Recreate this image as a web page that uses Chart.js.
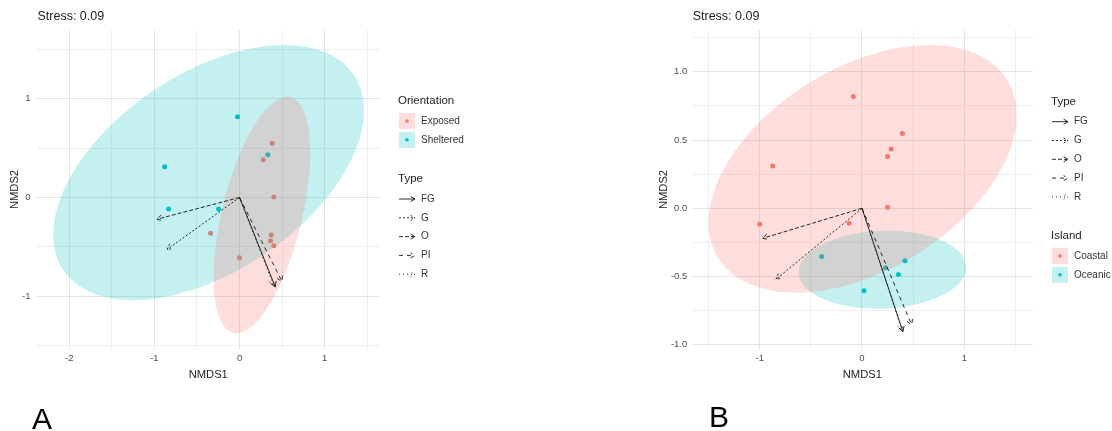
<!DOCTYPE html>
<html>
<head>
<meta charset="utf-8">
<title>NMDS ordination</title>
<script src="https://cdn.jsdelivr.net/npm/chart.js@4.4.1/dist/chart.umd.min.js"></script>
<style>
  html, body { margin: 0; padding: 0; background: #fff; }
  #wrap { position: relative; width: 1112px; height: 431px; }
  #wrap canvas { position: absolute; top: 0; }
  #panelA { left: 0; }
  #panelB { left: 556px; }
</style>
</head>
<body>
<div id="wrap">
  <canvas id="panelA" width="556" height="431"></canvas>
  <canvas id="panelB" width="556" height="431"></canvas>
</div>
<script>
// ---- panel A : sites grouped by orientation ----
var orientationGroups = ['Exposed', 'Sheltered'];
var exposedX   = [0.384, 0.278, 0.403, 0.372, 0.364, 0.403, -0.34, 0.0];
var exposedY   = [0.549, 0.383, 0.005, -0.38, -0.437, -0.488, -0.363, -0.61];
var shelteredX = [-0.023, -0.88, -0.833, -0.246, 0.333];
var shelteredY = [0.819, 0.312, -0.117, -0.117, 0.434];
// ellipse: centre x, centre y, var x, var y, cov xy
var exposedEllipse   = [0.2625, -0.1775, 0.322, 1.436, 0.357];
var shelteredEllipse = [-0.363, 0.2525, 3.338, 1.671, 1.15];

// ---- panel B : sites grouped by island ----
var islandGroups = ['Coastal', 'Oceanic'];
var coastalX = [-0.085, 0.395, 0.285, 0.25, -0.873, 0.25, -1.0, -0.127];
var coastalY = [0.818, 0.547, 0.434, 0.38, 0.31, 0.007, -0.117, -0.11];
var oceanicX = [-0.394, 0.42, 0.23, 0.356, 0.02];
var oceanicY = [-0.354, -0.384, -0.435, -0.486, -0.604];
var coastalEllipse = [0.006, 0.289, 2.268, 0.823, 0.594];
var oceanicEllipse = [0.20, -0.45, 0.672, 0.0818, 0.015];

// fitted vectors (envfit arrows)
var vectorTypes = ['FG', 'G', 'O', 'PI', 'R'];
var vectorAX = [0.42, -0.85, -0.97, 0.50, 0.40];
var vectorAY = [-0.906, -0.525, -0.22, -0.853, -0.89];
var vectorBX = [0.40, -0.84, -0.97, 0.486, 0.39];
var vectorBY = [-0.904, -0.52, -0.22, -0.855, -0.89];

var stressLabel = 'Stress: 0.09';

var FONT = '"Liberation Sans", Arial, Helvetica, sans-serif';
var RED = '#F8766D', CYAN = '#00BFC4';
var RED_FILL = 'rgba(248,118,109,0.24)', CYAN_FILL = 'rgba(0,191,196,0.23)';
var DASH = { FG: [], G: [2, 2], O: [4, 2], PI: [4, 4], R: [1, 3] };

function zip(xs, ys) {
    return xs.map(function (x, i) { return { x: x, y: ys[i] }; });
}

// closed outline of an ellipse given centre and covariance-style shape matrix
function ellipseOutline(e) {
    var l11 = Math.sqrt(e[2]), l21 = e[4] / l11, l22 = Math.sqrt(e[3] - l21 * l21);
    var pts = [];
    for (var i = 0; i <= 120; i++) {
        var t = i / 120 * 2 * Math.PI;
        pts.push({ x: e[0] + l11 * Math.cos(t), y: e[1] + l21 * Math.cos(t) + l22 * Math.sin(t) });
    }
    return pts;
}

function buildDatasets(groups, ellipses, vx, vy) {
    var ds = [];
    groups.forEach(function (g) {
        ds.push({
            label: g.name, data: zip(g.x, g.y), order: 3,
            pointRadius: 2.5, pointBorderWidth: 0,
            pointBackgroundColor: g.color
        });
    });
    ellipses.forEach(function (e) {
        ds.push({
            label: e.name + ' ellipse', data: ellipseOutline(e.par), order: 2,
            showLine: true, fill: 'shape', backgroundColor: e.fill,
            borderWidth: 0, borderColor: 'rgba(0,0,0,0)', pointRadius: 0
        });
    });
    vectorTypes.forEach(function (t, i) {
        ds.push({
            label: t, vector: t, data: [{ x: 0, y: 0 }, { x: vx[i], y: vy[i] }], order: 1,
            showLine: true, fill: false, borderColor: '#111', borderWidth: 0.9,
            borderDash: DASH[t], pointRadius: 0
        });
    });
    return ds;
}

function txt(ctx, s, x, y, size, color, align) {
    ctx.font = size + 'px ' + FONT;
    ctx.fillStyle = color;
    ctx.textAlign = align || 'left';
    ctx.textBaseline = 'middle';
    ctx.fillText(s, x, y);
}

function arrowHead(ctx, x0, y0, x1, y1, len) {
    var a = Math.atan2(y1 - y0, x1 - x0), s = Math.PI / 6;
    ctx.beginPath();
    ctx.moveTo(x1 - len * Math.cos(a - s), y1 - len * Math.sin(a - s));
    ctx.lineTo(x1, y1);
    ctx.lineTo(x1 - len * Math.cos(a + s), y1 - len * Math.sin(a + s));
    ctx.stroke();
}

function drawLegend(ctx, x, blocks) {
    blocks.forEach(function (b) {
        txt(ctx, b.title, x, b.y, 11.5, '#222');
        b.rows.forEach(function (r, i) {
            var y = b.y + 20 + i * 18.8;
            if (r.fill) {
                ctx.fillStyle = r.fill;
                ctx.fillRect(x + 1, y - 8, 16, 16);
                ctx.fillStyle = r.color;
                ctx.beginPath();
                ctx.arc(x + 9, y, 1.8, 0, 2 * Math.PI);
                ctx.fill();
            } else {
                ctx.save();
                ctx.strokeStyle = '#111';
                ctx.lineWidth = 0.9;
                ctx.setLineDash(DASH[r.label]);
                ctx.beginPath();
                ctx.moveTo(x + 1, y);
                ctx.lineTo(x + 17, y);
                ctx.stroke();
                arrowHead(ctx, x + 1, y, x + 17, y, 5);
                ctx.restore();
            }
            txt(ctx, r.label, x + 23, y, 10, '#333');
        });
    });
}

function decor(cfg) {
    return {
        id: 'decor',
        afterDatasetsDraw: function (chart) {
            var ctx = chart.ctx;
            chart.data.datasets.forEach(function (d, i) {
                if (!d.vector) return;
                var pts = chart.getDatasetMeta(i).data;
                ctx.save();
                ctx.strokeStyle = '#111';
                ctx.lineWidth = 0.9;
                ctx.setLineDash(DASH[d.vector]);
                arrowHead(ctx, pts[0].x, pts[0].y, pts[1].x, pts[1].y, 6);
                ctx.restore();
            });
        },
        afterDraw: function (chart) {
            var ctx = chart.ctx;
            txt(ctx, stressLabel, chart.chartArea.left + 1, 16.5, 12.5, '#222');
            ctx.font = '30px ' + FONT;
            ctx.fillStyle = '#000';
            ctx.textAlign = 'left';
            ctx.textBaseline = 'alphabetic';
            ctx.fillText(cfg.letter, cfg.letterX, cfg.letterY);
            drawLegend(ctx, cfg.legendX, cfg.legend);
        }
    };
}

function gridColor(c) {
    return Math.abs(c.tick.value % c.scale.options.majorStep) < 1e-6 ? '#e4e4e4' : '#efefef';
}

function axis(range, step, major, decimals, title, isY, cfg) {
    return {
        type: 'linear', min: range[0], max: range[1], majorStep: major,
        border: { display: false },
        afterFit: function (s) { if (isY) s.width = cfg.yWidth; else s.height = 33; },
        grid: { color: gridColor, lineWidth: 1, drawTicks: false, tickLength: 0 },
        ticks: {
            stepSize: step, includeBounds: false, autoSkip: false, maxRotation: 0,
            padding: isY ? cfg.yTickPad : 4, color: '#4d4d4d',
            font: { family: FONT, size: 9.5 },
            callback: function (v) {
                if (Math.abs(v % major) > 1e-6) return '';
                return decimals ? v.toFixed(decimals) : String(Math.round(v));
            }
        },
        title: {
            display: true, text: title, color: '#222',
            font: { family: FONT, size: 11.2 },
            padding: isY ? { top: cfg.yTitlePad, bottom: 0 } : { top: 0, bottom: 0 }
        }
    };
}

function makePanel(id, datasets, cfg) {
    return new Chart(document.getElementById(id), {
        type: 'scatter',
        data: { datasets: datasets },
        options: {
            responsive: false,
            animation: false,
            layout: { padding: cfg.padding },
            plugins: { legend: { display: false }, tooltip: { enabled: false } },
            scales: {
                x: axis(cfg.xRange, 0.5, 1, 0, 'NMDS1', false, cfg),
                y: axis(cfg.yRange, cfg.yStep, cfg.yMajor, cfg.yDecimals, 'NMDS2', true, cfg)
            }
        },
        plugins: [decor(cfg)]
    });
}

var typeRows = vectorTypes.map(function (t) { return { label: t }; });

makePanel('panelA', buildDatasets(
    [{ name: orientationGroups[0], x: exposedX, y: exposedY, color: RED },
     { name: orientationGroups[1], x: shelteredX, y: shelteredY, color: CYAN }],
    [{ name: orientationGroups[0], par: exposedEllipse, fill: RED_FILL },
     { name: orientationGroups[1], par: shelteredEllipse, fill: CYAN_FILL }],
    vectorAX, vectorAY), {
    padding: { left: 0, top: 30, right: 176, bottom: 49 },
    xRange: [-2.386, 1.651], yRange: [-1.535, 1.697], yStep: 0.5, yMajor: 1, yDecimals: 0,
    yWidth: 36.5, yTickPad: 6, yTitlePad: 8.3,
    letter: 'A', letterX: 32, letterY: 429,
    legendX: 398,
    legend: [
        { title: 'Orientation', y: 101, rows: [
            { label: orientationGroups[0], fill: RED_FILL, color: RED },
            { label: orientationGroups[1], fill: CYAN_FILL, color: CYAN }] },
        { title: 'Type', y: 179, rows: typeRows }
    ]
});

makePanel('panelB', buildDatasets(
    [{ name: islandGroups[0], x: coastalX, y: coastalY, color: RED },
     { name: islandGroups[1], x: oceanicX, y: oceanicY, color: CYAN }],
    [{ name: islandGroups[0], par: coastalEllipse, fill: RED_FILL },
     { name: islandGroups[1], par: oceanicEllipse, fill: CYAN_FILL }],
    vectorBX, vectorBY), {
    padding: { left: 95.7, top: 30, right: 79, bottom: 49 },
    xRange: [-1.665, 1.672], yRange: [-1.031, 1.306], yStep: 0.25, yMajor: 0.5, yDecimals: 1,
    yWidth: 40, yTickPad: 4.4, yTitlePad: 5.1,
    letter: 'B', letterX: 153, letterY: 427,
    legendX: 495,
    legend: [
        { title: 'Type', y: 101.7, rows: typeRows },
        { title: 'Island', y: 236, rows: [
            { label: islandGroups[0], fill: RED_FILL, color: RED },
            { label: islandGroups[1], fill: CYAN_FILL, color: CYAN }] }
    ]
});
</script>
</body>
</html>
